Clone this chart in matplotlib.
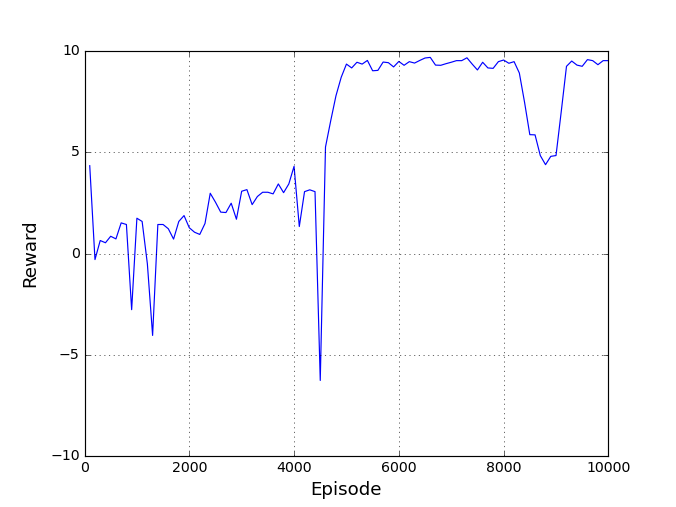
import matplotlib
matplotlib.use("Agg")
import matplotlib.pyplot as plt

# reward averaged every 100 episodes
episodes = list(range(100, 10001, 100))
rewards = [
    4.33, -0.30, 0.64, 0.53, 0.85, 0.72, 1.51, 1.43, -2.77, 1.74,
    1.58, -0.51, -4.04, 1.43, 1.43, 1.22, 0.71, 1.58, 1.87, 1.27,
    1.05, 0.94, 1.48, 2.97, 2.53, 2.04, 2.02, 2.48, 1.69, 3.07,
    3.15, 2.41, 2.81, 3.02, 3.02, 2.94, 3.43, 3.00, 3.43, 4.30,
    1.33, 3.05, 3.14, 3.05, -6.26, 5.25, 6.55, 7.78, 8.69, 9.34,
    9.15, 9.43, 9.34, 9.52, 9.01, 9.03, 9.44, 9.41, 9.20, 9.47,
    9.28, 9.46, 9.39, 9.52, 9.64, 9.67, 9.29, 9.28, 9.36, 9.43,
    9.51, 9.51, 9.65, 9.34, 9.05, 9.43, 9.15, 9.13, 9.46, 9.54,
    9.38, 9.46, 8.90, 7.45, 5.86, 5.85, 4.83, 4.38, 4.79, 4.83,
    7.00, 9.23, 9.49, 9.29, 9.23, 9.56, 9.51, 9.31, 9.51, 9.51,
]

plt.style.use("classic")
fig = plt.figure(figsize=(8, 6), dpi=84.5)
fig.patch.set_facecolor("white")
ax = fig.add_subplot(111)
ax.plot(episodes, rewards, color="b", linewidth=1.0)
ax.set_xlim(0, 10000)
ax.set_ylim(-10, 10)
ax.set_xlabel("Episode", fontsize=15.5)
ax.set_ylabel("Reward", fontsize=15.5, labelpad=9)
ax.grid(True)

fig.savefig("out.png", dpi=84.5, facecolor="white")
